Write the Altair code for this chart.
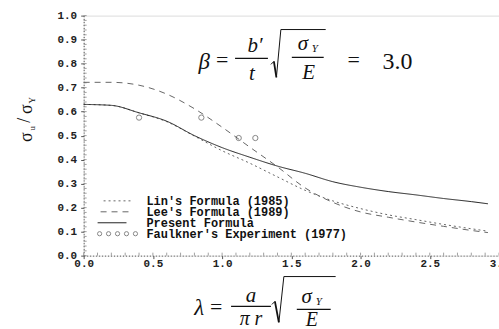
import altair as alt
import pandas as pd

# Normalised ultimate strength vs. slenderness, beta = 3.0
lam = [0.0, 0.2, 0.4, 0.6, 0.8, 1.0, 1.2, 1.4, 1.6, 1.8, 2.0, 2.2, 2.4, 2.6, 2.8, 2.92]
lin_1985 = [0.630, 0.626, 0.595, 0.558, 0.498, 0.437, 0.385, 0.328, 0.272, 0.228,
            0.196, 0.170, 0.150, 0.130, 0.112, 0.102]
lee_1989 = [0.722, 0.722, 0.710, 0.673, 0.612, 0.535, 0.452, 0.370, 0.282, 0.222,
            0.182, 0.160, 0.140, 0.122, 0.105, 0.096]
present = [0.630, 0.626, 0.595, 0.560, 0.500, 0.450, 0.410, 0.373, 0.343, 0.308,
           0.285, 0.267, 0.253, 0.238, 0.225, 0.216]

# Faulkner's test results (1977)
exp_lam = [0.40, 0.85, 1.12, 1.24]
exp_val = [0.575, 0.575, 0.49, 0.49]

x_ticks = [0.0, 0.5, 1.0, 1.5, 2.0, 2.5, 3.0]
y_ticks = [round(0.1 * i, 1) for i in range(11)]

legend_labels = ["Lin's Formula (1985)", "Lee's Formula (1989)",
                 "Present Formula", "Faulkner's Experiment (1977)"]

W, H = 417, 241
OX, OY = 84, 15  # plot origin inside the page


def px(x):
    return x - OX


def py(y):
    return y - OY


one = alt.Data(values=[{}])
MONO = "Liberation Mono"
SERIF = "Liberation Serif"

curves = pd.DataFrame({
    "lam": lam * 3,
    "val": lin_1985 + lee_1989 + present,
    "series": ["lin"] * len(lam) + ["lee"] * len(lam) + ["present"] * len(lam),
})

xs = alt.Scale(domain=[0, 3], nice=False, zero=False)
ys = alt.Scale(domain=[0, 1], nice=False, zero=False)

x_axis = alt.Axis(values=x_ticks, format=".1f", title=None, grid=False,
                  labelFont=MONO, labelFontWeight="bold", labelFontSize=11,
                  labelColor="#222", labelPadding=-1, tickSize=3, tickColor="#555",
                  domainColor="#555", domainDash=[1, 2], labelFlush=False)
y_axis = alt.Axis(values=y_ticks, format=".1f", title=None, grid=False,
                  labelFont=MONO, labelFontWeight="bold", labelFontSize=11,
                  labelColor="#222", labelPadding=4, tickSize=3, tickColor="#555",
                  domainColor="#555", domainDash=[1, 2])


def xenc(field):
    return alt.X(field, scale=xs, axis=x_axis)


def yenc(field):
    return alt.Y(field, scale=ys, axis=y_axis)


def curve(name, dash, color, width):
    return alt.Chart(curves).transform_filter(
        alt.datum.series == name
    ).mark_line(interpolate="monotone", strokeDash=dash, color=color,
                strokeWidth=width).encode(x=xenc("lam:Q"), y=yenc("val:Q"))


lin_line = curve("lin", [2, 3], "#666", 1.0)
lee_line = curve("lee", [6, 5], "#666", 1.0)
present_line = curve("present", [1, 0], "#222", 1.0)

points = alt.Chart(pd.DataFrame({"lam": exp_lam, "val": exp_val})).mark_point(
    shape="circle", filled=False, size=28, color="#555", strokeWidth=1
).encode(x=xenc("lam:Q"), y=yenc("val:Q"))

# minor ticks along both axes
minor_y = alt.Chart(pd.DataFrame({"v": [round(0.02 * i, 2) for i in range(51)]})).mark_rule(
    color="#888", strokeWidth=0.8
).encode(y=yenc("v:Q"), x=alt.value(0), x2=alt.value(3))
minor_x = alt.Chart(pd.DataFrame({"v": [round(0.1 * i, 1) for i in range(31)]})).mark_rule(
    color="#888", strokeWidth=0.8
).encode(x=xenc("v:Q"), y=alt.value(H - 3), y2=alt.value(H))


def seg(x1, y1, x2, y2, w=1.0, dash=None, color="#111"):
    kw = dict(color=color, strokeWidth=w)
    if dash:
        kw["strokeDash"] = dash
    return alt.Chart(one).mark_rule(**kw).encode(
        x=alt.value(px(x1)), x2=alt.value(px(x2)),
        y=alt.value(py(y1)), y2=alt.value(py(y2)))


def txt(s, x, y, size, font=SERIF, style="normal", weight="normal", align="center",
        angle=0, color="#111"):
    kw = dict(text=s, font=font, fontSize=size, fontStyle=style, fontWeight=weight,
              align=align, baseline="middle", color=color)
    if angle:
        kw["angle"] = angle
    return alt.Chart(one).mark_text(**kw).encode(x=alt.value(px(x)), y=alt.value(py(y)))


def dot(x, y, size=18):
    return alt.Chart(one).mark_point(shape="circle", filled=False, size=size,
                                     color="#555", strokeWidth=1).encode(
        x=alt.value(px(x)), y=alt.value(py(y)))


# legend
rows_y = [201, 212, 223, 234]
legend = [
    seg(104, rows_y[0], 131, rows_y[0], 1.0, [2, 3], "#666"),
    seg(101, rows_y[1], 131, rows_y[1], 1.0, [6, 5], "#666"),
    seg(98, rows_y[2], 127, rows_y[2], 1.0, None, "#222"),
]
legend += [dot(100 + 9 * i, rows_y[3]) for i in range(5)]
for label, ry in zip(legend_labels, rows_y):
    legend.append(txt(label, 147, ry, 12, font=MONO, weight="bold", align="left"))

# y-axis title: sigma_u / sigma_Y, rotated
ytitle = [
    txt("σ", 27, 137, 18, angle=270),
    txt("u", 32, 128, 9, angle=270),
    txt("/", 25, 120, 18, angle=270),
    txt("σ", 27, 109, 18, angle=270),
    txt("Y", 32, 100, 9, angle=270),
]

# beta formula
beta = [
    txt("β", 205, 62, 23, style="italic"),
    txt("=", 223, 60, 22),
    seg(236, 58, 269, 58, 1.2),
    txt("b′", 256, 46, 21, style="italic"),
    txt("t", 253, 74, 21, style="italic"),
    seg(272, 64, 275, 61, 1.0),
    seg(275, 61, 277.5, 77, 1.8),
    seg(277.5, 77, 282, 29, 1.0),
    seg(282, 29, 327, 29, 1.0),
    txt("σ", 304, 44, 21, style="italic"),
    txt("Y", 316, 49, 11, style="italic"),
    seg(293, 57, 325, 57, 1.2),
    txt("E", 310, 73, 21, style="italic"),
    txt("=", 355, 60, 22),
    txt("3.0", 399, 62, 24),
]

# lambda formula under the x axis
lam_f = [
    txt("λ", 200, 309, 23, style="italic"),
    txt("=", 217, 308, 22),
    seg(232, 307, 272, 307, 1.2),
    txt("a", 252, 297, 21, style="italic"),
    txt("π r", 252, 320, 20, style="italic"),
    seg(273, 305, 276, 302, 1.0),
    seg(276, 302, 280, 323, 1.8),
    seg(280, 323, 285, 277, 1.0),
    seg(285, 277, 337, 277, 1.0),
    txt("σ", 308, 298, 21, style="italic"),
    txt("Y", 320, 303, 11, style="italic"),
    seg(298, 310, 332, 310, 1.2),
    txt("E", 313, 321, 20, style="italic"),
]

chart = alt.layer(
    minor_y, minor_x, lin_line, lee_line, present_line, points,
    *legend, *ytitle, *beta, *lam_f
).properties(
    width=W, height=H,
    autosize=alt.AutoSizeParams(type="none"),
    padding={"left": OX, "top": OY, "right": 0, "bottom": 329 - OY - H},
).configure_view(stroke=None).configure(background="white")

chart.save("out.html", embed_options={"renderer": "svg", "actions": False})
